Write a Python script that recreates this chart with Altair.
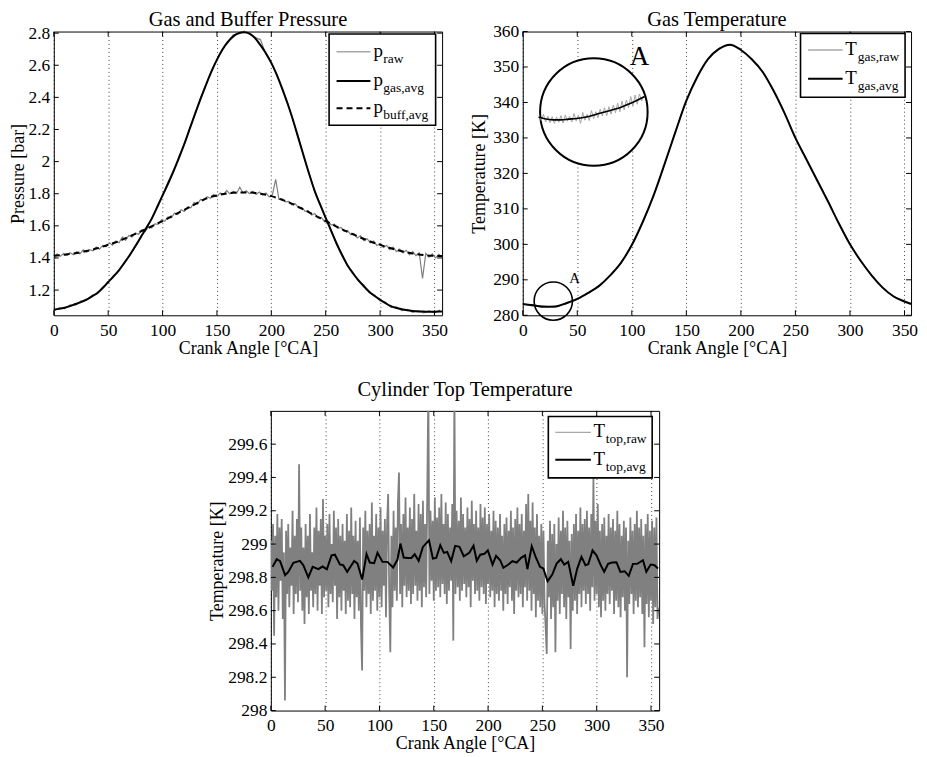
import altair as alt
import pandas as pd

FONT = "Liberation Serif"
W = 390

crank_ticks = [0, 50, 100, 150, 200, 250, 300, 350]

# ---------------- Panel 1: Gas and Buffer Pressure ----------------
p_ticks = [1.2, 1.4, 1.6, 1.8, 2.0, 2.2, 2.4, 2.6, 2.8]

p_gas_avg_x = list(range(0, 360, 5)) + [357]
p_gas_avg = [1.078, 1.083, 1.090, 1.100, 1.113, 1.125, 1.140, 1.160, 1.182, 1.213,
             1.250, 1.285, 1.325, 1.370, 1.420, 1.473, 1.530, 1.585, 1.645, 1.715,
             1.790, 1.862, 1.940, 2.022, 2.110, 2.205, 2.300, 2.392, 2.480, 2.562,
             2.635, 2.697, 2.745, 2.780, 2.800, 2.806, 2.797, 2.770, 2.725, 2.675,
             2.615, 2.540, 2.455, 2.360, 2.258, 2.143, 2.030, 1.918, 1.815, 1.730,
             1.650, 1.568, 1.490, 1.418, 1.355, 1.305, 1.262, 1.224, 1.190, 1.163,
             1.140, 1.118, 1.100, 1.088, 1.080, 1.074, 1.070, 1.067, 1.066, 1.065,
             1.065, 1.066, 1.067]

p_buff_avg_x = list(range(0, 360, 10)) + [357]
p_buff_avg = [1.415, 1.420, 1.430, 1.443, 1.460, 1.482, 1.505, 1.535, 1.565, 1.597,
              1.630, 1.665, 1.700, 1.735, 1.770, 1.790, 1.803, 1.808, 1.808, 1.800,
              1.785, 1.762, 1.735, 1.700, 1.665, 1.630, 1.595, 1.563, 1.533, 1.505,
              1.482, 1.460, 1.442, 1.428, 1.418, 1.413, 1.412]

p_buff_raw_x = list(range(0, 360, 3))
p_buff_raw = [1.385, 1.425, 1.410, 1.428, 1.415, 1.432, 1.420, 1.438, 1.425, 1.450,
              1.435, 1.452, 1.445, 1.468, 1.455, 1.478, 1.470, 1.495, 1.480, 1.505,
              1.495, 1.530, 1.510, 1.540, 1.530, 1.555, 1.548, 1.575, 1.565, 1.595,
              1.588, 1.612, 1.610, 1.638, 1.628, 1.655, 1.650, 1.680, 1.670, 1.700,
              1.690, 1.718, 1.712, 1.745, 1.735, 1.765, 1.760, 1.782, 1.772, 1.795,
              1.782, 1.805, 1.795, 1.820, 1.798, 1.815, 1.802, 1.840, 1.805, 1.818,
              1.800, 1.815, 1.795, 1.810, 1.792, 1.805, 1.780, 1.795, 1.890, 1.765,
              1.770, 1.750, 1.752, 1.730, 1.738, 1.712, 1.715, 1.690, 1.695, 1.668,
              1.675, 1.648, 1.652, 1.625, 1.630, 1.605, 1.610, 1.585, 1.590, 1.565,
              1.572, 1.545, 1.552, 1.525, 1.538, 1.508, 1.520, 1.495, 1.505, 1.478,
              1.490, 1.465, 1.478, 1.452, 1.468, 1.440, 1.455, 1.432, 1.448, 1.420,
              1.440, 1.415, 1.432, 1.272, 1.428, 1.405, 1.425, 1.400, 1.422, 1.405]

p_gas_raw_x = list(range(0, 360, 5))
p_gas_raw = [1.070, 1.090, 1.085, 1.108, 1.106, 1.133, 1.135, 1.168, 1.176, 1.220,
             1.245, 1.292, 1.320, 1.378, 1.415, 1.480, 1.525, 1.592, 1.640, 1.725,
             1.788, 1.872, 1.935, 2.032, 2.105, 2.208, 2.296, 2.398, 2.478, 2.568,
             2.632, 2.702, 2.740, 2.790, 2.795, 2.812, 2.795, 2.772, 2.760, 2.668,
             2.612, 2.545, 2.450, 2.365, 2.252, 2.148, 2.025, 1.922, 1.810, 1.736,
             1.645, 1.575, 1.484, 1.425, 1.350, 1.312, 1.256, 1.232, 1.184, 1.170,
             1.132, 1.125, 1.092, 1.095, 1.072, 1.080, 1.062, 1.072, 1.058, 1.070,
             1.058, 1.075]

# ---------------- Panel 2: Gas Temperature ----------------
tg_ticks = [280, 290, 300, 310, 320, 330, 340, 350, 360]
tg_avg_x = list(range(0, 360, 10)) + [356]
tg_avg = [283.2, 282.8, 282.4, 282.5, 283.4, 284.6, 286.3, 288.3, 291.2, 294.8,
          299.8, 306.3, 313.8, 322.6, 331.7, 340.5, 347.2, 352.3, 355.1, 356.3,
          354.8, 352.2, 348.6, 343.3, 337.0, 330.0, 324.0, 318.0, 312.0, 305.8,
          300.0, 295.3, 291.2, 287.8, 285.3, 283.9, 283.2]
tg_raw = [283.4, 282.6, 282.6, 282.3, 283.6, 284.4, 286.5, 288.1, 291.4, 294.6,
          300.0, 306.1, 314.0, 322.4, 331.9, 340.3, 347.4, 352.1, 355.3, 356.1,
          355.0, 352.0, 348.8, 343.1, 337.2, 329.8, 324.2, 317.8, 312.2, 305.6,
          300.2, 295.1, 291.4, 287.6, 285.5, 283.7, 283.4]

# zoomed detail "A" drawn inside the inset circle
inset_avg_x = [14.5, 20, 28, 35, 42, 49.4, 58, 67.6, 76, 85.9, 95, 104, 111.8]
inset_avg = [335.9, 335.4, 335.1, 335.1, 335.3, 335.5, 335.9, 336.7, 337.4, 338.2,
             339.3, 340.5, 341.7]
inset_raw_x = list(range(15, 112, 2))
inset_raw = [336.3, 334.9, 336.7, 334.5, 336.2, 334.3, 336.0, 334.1, 335.9, 334.4,
             336.3, 334.2, 336.5, 334.7, 336.1, 334.5, 336.9, 334.8, 336.4, 334.1,
             337.2, 335.0, 336.7, 334.9, 337.7, 335.5, 337.4, 335.7, 338.1, 336.2,
             338.5, 336.3, 338.8, 336.7, 339.3, 337.1, 339.8, 337.4, 340.4, 337.9,
             340.7, 338.5, 341.7, 338.9, 342.1, 339.5, 342.4, 340.4, 341.9]

# annotation circles and labels (data coordinates)
big_circle = {"x": [65.2], "y": [337.3]}
small_circle = {"x": [28.0], "y": [284.0]}
label_big_A = {"x": [98.0], "y": [350.5], "t": ["A"]}
label_small_A = {"x": [42.6], "y": [289.0], "t": ["A"]}

# ---------------- Panel 3: Cylinder Top Temperature ----------------
tt_ticks = [298, 298.2, 298.4, 298.6, 298.8, 299, 299.2, 299.4, 299.6]
tt_raw_x = list(range(0, 358))
tt_raw = [
    299.02, 298.72, 299.12, 298.45, 299.05, 298.68, 299.18, 298.60, 299.10, 298.78,
    299.15, 298.55, 298.95, 298.06, 299.08, 298.70, 299.12, 298.62, 298.98, 298.75,
    299.20, 298.58, 299.05, 298.70, 299.15, 298.65, 299.48, 298.72, 299.10, 298.60,
    298.98, 298.52, 299.12, 298.68, 299.05, 298.58, 299.18, 298.72, 298.95, 298.62,
    299.10, 298.70, 299.22, 298.60, 299.08, 298.75, 299.15, 298.58, 299.27, 298.68,
    299.05, 298.72, 299.12, 298.62, 299.18, 298.70, 299.00, 298.65, 299.20, 298.75,
    299.10, 298.55, 299.15, 298.68, 299.05, 298.60, 299.12, 298.72, 299.02, 298.58,
    299.18, 298.66, 299.08, 298.62, 299.22, 298.70, 299.05, 298.55, 299.14, 298.68,
    299.02, 298.60, 299.16, 298.50, 298.24, 299.10, 298.72, 299.20, 298.62, 299.08,
    298.70, 299.12, 298.58, 299.25, 298.66, 299.05, 298.72, 299.18, 298.60, 299.10,
    298.68, 299.22, 298.62, 299.08, 298.75, 299.15, 298.56, 299.12, 299.30, 298.70,
    298.35, 299.05, 298.62, 299.20, 298.72, 299.10, 298.66, 299.25, 299.43, 298.70,
    299.12, 298.62, 299.18, 298.75, 299.28, 298.68, 299.10, 298.72, 299.22, 298.64,
    299.15, 298.70, 299.30, 298.75, 299.08, 298.66, 299.24, 298.72, 299.18, 298.62,
    299.26, 298.74, 299.12, 298.68, 299.30, 299.95, 298.70, 299.20, 298.78, 299.14,
    298.66, 299.28, 298.72, 299.16, 298.74, 299.22, 298.68, 299.30, 298.76, 299.12,
    298.70, 299.25, 298.64, 299.18, 298.72, 299.10, 298.78, 299.24, 298.42, 299.95,
    298.70, 299.20, 298.74, 299.14, 298.66, 299.28, 298.72, 299.18, 298.76, 299.10,
    298.68, 299.22, 298.74, 299.15, 298.62, 299.26, 298.78, 299.12, 298.70, 299.20,
    298.72, 299.10, 298.66, 299.24, 298.74, 299.16, 298.70, 299.22, 298.64, 299.12,
    298.76, 299.18, 298.68, 299.08, 298.72, 299.20, 298.62, 299.14, 298.70, 299.10,
    298.66, 299.18, 298.72, 299.05, 298.60, 299.12, 298.70, 299.16, 298.64, 299.08,
    298.74, 299.20, 298.66, 299.10, 298.58, 299.15, 298.72, 299.22, 298.68, 299.12,
    298.70, 299.18, 298.62, 299.08, 298.74, 299.24, 298.66, 299.30, 298.72, 299.14,
    298.60, 299.25, 298.70, 299.10, 298.56, 299.18, 298.66, 299.05, 298.62, 299.12,
    298.58, 299.08, 298.64, 298.50, 298.34, 299.02, 298.68, 299.14, 298.55, 299.06,
    298.62, 299.12, 298.35, 299.00, 298.66, 299.16, 298.58, 299.08, 298.70, 299.20,
    298.62, 299.10, 298.55, 299.14, 298.68, 299.02, 298.37, 299.06, 298.60, 299.12,
    298.66, 299.18, 298.58, 299.08, 298.70, 299.22, 298.62, 299.12, 298.72, 299.15,
    298.64, 299.20, 298.70, 299.10, 298.60, 299.18, 298.74, 299.40, 298.66, 299.14,
    298.70, 299.24, 298.62, 299.08, 298.56, 299.12, 298.66, 299.16, 298.60, 299.05,
    298.70, 299.18, 298.64, 299.10, 298.72, 299.15, 298.58, 299.08, 298.66, 299.20,
    298.62, 299.12, 298.56, 299.05, 298.68, 299.14, 298.60, 299.10, 298.20, 299.02,
    298.64, 299.16, 298.70, 299.08, 298.58, 299.12, 298.66, 299.20, 298.62, 299.10,
    298.68, 299.15, 298.58, 299.05, 298.38, 299.12, 298.64, 299.18, 298.56, 299.08,
    298.66, 299.14, 298.52, 299.10, 298.62, 299.16, 298.55, 298.62]
tt_avg_x = [1.6, 5.4, 8.5, 13.1, 16.1, 20.7, 26.8, 29.9, 34.5, 38.5,
            43.7, 47.6, 51.6, 55.9, 59.0, 63.6, 66.6, 70.3, 76.7, 79.8,
            84.1, 88.1, 91.1, 95.1, 98.2, 102.8, 107.3, 112.6, 116.6, 119.3,
            122.3, 126.3, 129.4, 132.4, 136.1, 140.0, 145.6, 149.2, 152.3, 156.0,
            159.3, 162.4, 166.0, 169.7, 173.7, 177.6, 182.7, 186.6, 189.6, 192.8,
            196.7, 199.8, 204.1, 207.4, 211.1, 214.1, 218.7, 222.4, 226.4, 230.4,
            234.0, 236.2, 240.2, 243.8, 247.8, 250.9, 254.8, 259.1, 263.1, 267.0,
            270.1, 273.8, 278.4, 282.1, 286.0, 289.7, 292.2, 296.2, 299.8, 303.8,
            306.9, 310.5, 314.2, 318.2, 321.8, 325.8, 329.5, 333.4, 337.4, 342.6,
            345.7, 349.7, 353.3, 356.4]
tt_avg = [298.863, 298.909, 298.897, 298.813, 298.833, 298.887, 298.899, 298.873, 298.800, 298.863,
          298.849, 298.865, 298.849, 298.932, 298.936, 298.878, 298.873, 298.833, 298.899, 298.883,
          298.787, 298.940, 298.889, 298.885, 298.948, 298.893, 298.893, 298.859, 298.907, 299.003,
          298.919, 298.917, 298.917, 298.939, 298.899, 298.983, 299.023, 298.913, 298.917, 298.993,
          298.947, 298.953, 298.897, 298.989, 298.983, 298.927, 298.948, 298.990, 298.900, 298.936,
          298.942, 298.962, 298.877, 298.929, 298.903, 298.857, 298.877, 298.897, 298.889, 298.917,
          298.932, 298.849, 298.987, 298.923, 298.863, 298.853, 298.777, 298.817, 298.883, 298.909,
          298.877, 298.893, 298.750, 298.853, 298.923, 298.873, 298.879, 298.962, 298.932, 298.873,
          298.833, 298.881, 298.889, 298.891, 298.833, 298.837, 298.809, 298.881, 298.881, 298.903,
          298.833, 298.877, 298.873, 298.853]

RAW_GREY = "#7f7f7f"
LEG_GREY = "#a8a8a8"
INSET_GREY = "#a4a4a4"
ONE = pd.DataFrame({"d": [0]})

LBL = dict(labelFont=FONT, labelFontSize=17.5, labelColor="black",
           titleFont=FONT, titleFontSize=18, titleFontWeight="normal", titleColor="black")


def enc_x(xdom):
    return alt.X("x:Q", scale=alt.Scale(domain=xdom, nice=False, zero=False),
                 axis=alt.Axis(values=crank_ticks, grid=True, gridDash=[1, 3],
                               gridColor="#000000", gridOpacity=0.75, gridWidth=1,
                               ticks=False, domain=False, labelFlush=False, format="d",
                               labelPadding=6, title="Crank Angle [°CA]", titlePadding=1,
                               **LBL))


def enc_y(ydom, ticks, title, tpad, fmt):
    return alt.Y("y:Q", scale=alt.Scale(domain=ydom, nice=False, zero=False),
                 axis=alt.Axis(values=ticks, grid=False, ticks=False, domain=False,
                               format=fmt, labelPadding=4, title=title,
                               titlePadding=tpad, **LBL))


def line(xs, ys, xe, ye, color, width, dash=None, clip=False, smooth=False):
    kw = dict(color=color, strokeWidth=width, clip=clip)
    if dash:
        kw["strokeDash"] = dash
    if smooth:
        kw["interpolate"] = "monotone"
    return alt.Chart(pd.DataFrame({"x": xs, "y": ys})).mark_line(**kw).encode(x=xe, y=ye)


def inner_ticks(xe, ye, yticks, H):
    dx = pd.DataFrame({"x": crank_ticks})
    dy = pd.DataFrame({"y": yticks})
    k = dict(color="black", strokeWidth=1)
    return [
        alt.Chart(dx).mark_rule(**k).encode(x=xe, y=alt.value(H), y2=alt.value(H - 5)),
        alt.Chart(dx).mark_rule(**k).encode(x=xe, y=alt.value(0), y2=alt.value(5)),
        alt.Chart(dy).mark_rule(**k).encode(y=ye, x=alt.value(0), x2=alt.value(5)),
        alt.Chart(dy).mark_rule(**k).encode(y=ye, x=alt.value(W - 5), x2=alt.value(W)),
    ]


def legend(box, line_x, text_x, sub_dx, rows, main_fs=19, sub_fs=13.5):
    out = [alt.Chart(ONE).mark_rect(fill="white", stroke="black", strokeWidth=1.6).encode(
        x=alt.value(box[0]), x2=alt.value(box[1]), y=alt.value(box[2]), y2=alt.value(box[3]))]
    for main, sub, color, width, dash, ry in rows:
        kw = dict(color=color, strokeWidth=width)
        if dash:
            kw["strokeDash"] = dash
        out.append(alt.Chart(ONE).mark_rule(**kw).encode(
            x=alt.value(line_x[0]), x2=alt.value(line_x[1]), y=alt.value(ry)))
        out.append(alt.Chart(ONE).mark_text(align="left", baseline="alphabetic", font=FONT,
                                            fontSize=main_fs, color="black").encode(
            x=alt.value(text_x), y=alt.value(ry + 5), text=alt.value(main)))
        out.append(alt.Chart(ONE).mark_text(align="left", baseline="alphabetic", font=FONT,
                                            fontSize=sub_fs, color="black").encode(
            x=alt.value(text_x + sub_dx), y=alt.value(ry + 11), text=alt.value(sub)))
    return out


def title_mark(text, dy):
    return alt.Chart(ONE).mark_text(align="center", baseline="alphabetic", font=FONT,
                                    fontSize=20.5, color="black").encode(
        x=alt.value(W / 2), y=alt.value(-dy), text=alt.value(text))


# ---- panel 1 ----
H1 = 285
x1 = enc_x([0, 357])
y1 = enc_y([1.043, 2.81], p_ticks, "Pressure [bar]", 1, ".1~f")
layers1 = [
    line(p_buff_raw_x, p_buff_raw, x1, y1, RAW_GREY, 1.2),
    line(p_gas_raw_x, p_gas_raw, x1, y1, RAW_GREY, 1.2),
    line(p_gas_avg_x, p_gas_avg, x1, y1, "black", 2, smooth=True),
    line(p_buff_avg_x, p_buff_avg, x1, y1, "black", 2, dash=[6, 4], smooth=True),
] + inner_ticks(x1, y1, p_ticks, H1) + legend(
    (276.5, 383.5, 2.4, 94.1), (284, 318), 321, 10,
    [("p", "raw", LEG_GREY, 1.5, None, 20.4),
     ("p", "gas,avg", "black", 2, None, 49.8),
     ("p", "buff,avg", "black", 2, [6, 4], 77.1)]) + [
    title_mark("Gas and Buffer Pressure", 5.2)]
panel1 = alt.layer(*layers1).properties(width=W, height=H1)

# ---- panel 2 ----
H2 = 285
x2 = enc_x([0, 356])
y2 = enc_y([280, 360], tg_ticks, "Temperature [K]", 4, "d")
layers2 = [
    line(tg_avg_x, tg_raw, x2, y2, RAW_GREY, 1, smooth=True),
    line(tg_avg_x, tg_avg, x2, y2, "black", 2, smooth=True),
    alt.Chart(pd.DataFrame(big_circle)).mark_point(shape="circle", size=11664, filled=False,
                                                   fill="white", fillOpacity=1, stroke="black",
                                                   strokeWidth=2, opacity=1).encode(x=x2, y=y2),
    line(inset_raw_x, inset_raw, x2, y2, INSET_GREY, 1),
    line(inset_avg_x, inset_avg, x2, y2, "black", 1.6, smooth=True),
    alt.Chart(pd.DataFrame(small_circle)).mark_point(shape="circle", size=1482, filled=False,
                                                     stroke="black", strokeWidth=1.6,
                                                     opacity=1).encode(x=x2, y=y2),
    alt.Chart(pd.DataFrame(label_big_A)).mark_text(align="left", baseline="alphabetic",
                                                   font=FONT, fontSize=27, color="black"
                                                   ).encode(x=x2, y=y2, text="t:N"),
    alt.Chart(pd.DataFrame(label_small_A)).mark_text(align="left", baseline="alphabetic",
                                                     font=FONT, fontSize=15, color="black"
                                                     ).encode(x=x2, y=y2, text="t:N"),
] + inner_ticks(x2, y2, tg_ticks, H2) + legend(
    (279, 384, 2, 66), (286.6, 321.3), 324, 12.5,
    [("T", "gas,raw", LEG_GREY, 1.5, None, 18.5),
     ("T", "gas,avg", "black", 2, None, 47.5)]) + [
    title_mark("Gas Temperature", 5.2)]
panel2 = alt.layer(*layers2).properties(width=W, height=H2)

# ---- panel 3 ----
H3 = 301
x3 = enc_x([0, 357.5])
y3 = enc_y([298, 299.8], tt_ticks, "Temperature [K]", 1, ".1~f")
layers3 = [
    line(tt_raw_x, tt_raw, x3, y3, "#808080", 1.8, clip=True),
    line(tt_avg_x, tt_avg, x3, y3, "black", 2),
] + inner_ticks(x3, y3, tt_ticks, H3) + legend(
    (278.7, 383, 5.6, 67.3), (285.7, 321.4), 324, 12.5,
    [("T", "top,raw", LEG_GREY, 1.5, None, 21.6),
     ("T", "top,avg", "black", 2, None, 49)]) + [
    title_mark("Cylinder Top Temperature", 15)]
panel3 = alt.layer(*layers3).properties(width=W, height=H3)

spacer = alt.Chart(ONE).mark_point(opacity=0).encode(
    x=alt.X("d:Q", axis=None), y=alt.Y("d:Q", axis=None)
).properties(width=155, height=10, view=alt.ViewBackground(strokeOpacity=0))

top = alt.hconcat(panel1, panel2, spacing=22)
bottom = alt.hconcat(spacer, panel3, spacing=0)
chart = alt.vconcat(top, bottom, spacing=21).properties(padding=0).configure_view(
    stroke="black", strokeWidth=1
)

chart.save("out.html", embed_options={"renderer": "svg", "actions": False})
